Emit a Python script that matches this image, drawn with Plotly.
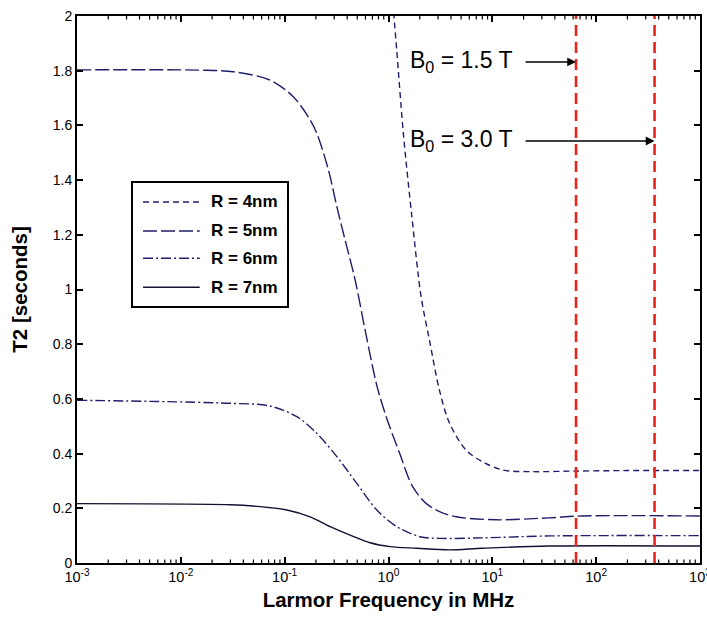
import numpy as np
import plotly.graph_objects as go

# T2 relaxation versus Larmor frequency for four particle radii
freq_r4 = [1.1, 1.2, 1.39, 1.68, 2.06, 2.48, 3.09, 3.86, 5.58, 8.07, 12.6, 24.4, 60, 200, 1000]
t2_r4 = [2.05, 1.876, 1.571, 1.266, 0.974, 0.815, 0.633, 0.512, 0.413, 0.370, 0.340, 0.334, 0.336, 0.338, 0.338]

freq_r5 = [0.001, 0.0152, 0.032, 0.072, 0.121, 0.176, 0.204, 0.264, 0.318, 0.382, 0.477, 0.595, 0.771, 0.95,
           1.28, 1.71, 2.3, 3.1, 4.5, 10.8, 35, 73, 1000]
t2_r5 = [1.803, 1.802, 1.796, 1.766, 1.705, 1.62, 1.571, 1.437, 1.303, 1.181, 1.035, 0.852, 0.65, 0.535,
         0.401, 0.279, 0.218, 0.188, 0.169, 0.158, 0.165, 0.172, 0.172]

freq_r6 = [0.001, 0.0298, 0.072, 0.131, 0.204, 0.318, 0.495, 0.771, 1.2, 2.01, 3.09, 8.07, 37, 1000]
t2_r6 = [0.595, 0.584, 0.574, 0.535, 0.474, 0.389, 0.291, 0.194, 0.133, 0.096, 0.09, 0.092, 0.099, 0.10]

freq_r7 = [0.001, 0.0298, 0.058, 0.105, 0.176, 0.274, 0.427, 0.665, 1.035, 1.87, 3.86, 8.07, 35, 1000]
t2_r7 = [0.217, 0.213, 0.206, 0.194, 0.169, 0.133, 0.102, 0.074, 0.06, 0.054, 0.048, 0.054, 0.062, 0.062]

series_names = ["R = 4nm", "R = 5nm", "R = 6nm", "R = 7nm"]
series_dash = ["6px,4px", "14px,4px", "10px,3px,2px,3px", "solid"]
series_color = ["#1f1f6b", "#1f1f6b", "#1f1f6b", "#111133"]

# Scanner field strengths and their proton Larmor frequencies (MHz)
field_labels = ["B<sub>0</sub> = 1.5 T", "B<sub>0</sub> = 3.0 T"]
field_freqs = [64, 365]
label_t2 = [1.832, 1.543]
label_start = 1.55      # frequency where the label text begins
arrow_tail = 20.2       # frequency where each arrow starts

# Axis ticks
x_major = [1e-3, 1e-2, 1e-1, 1e0, 1e1, 1e2, 1e3]
x_major_text = ["10<sup>-3</sup>", "10<sup>-2</sup>", "10<sup>-1</sup>", "10<sup>0</sup>",
                "10<sup>1</sup>", "10<sup>2</sup>", "10<sup>3</sup>"]
x_minor = [m * 10.0 ** k for k in range(-3, 3) for m in range(2, 10)]

RED = "#e8231c"
FONT = "Liberation Sans, Arial, Helvetica, sans-serif"

fig = go.Figure()
for f, t, name, dash, col in zip([freq_r4, freq_r5, freq_r6, freq_r7],
                                 [t2_r4, t2_r5, t2_r6, t2_r7], series_names, series_dash, series_color):
    fig.add_trace(go.Scatter(
        x=f, y=t, mode="lines", name=name, showlegend=False,
        line=dict(color=col, width=1.4, dash=dash, shape="spline", smoothing=0.9),
    ))

# Vertical dashed lines at the two field strengths
for fq in field_freqs:
    fig.add_shape(type="line", xref="x", yref="paper", x0=fq, x1=fq, y0=0, y1=1,
                  line=dict(color=RED, width=2.6, dash="11px,6px"))

for lab, fq, yv in zip(field_labels, field_freqs, label_t2):
    fig.add_annotation(x=np.log10(label_start), y=yv, xref="x", yref="y", text=lab,
                       showarrow=False, xanchor="left", yanchor="middle",
                       font=dict(family=FONT, size=23, color="black"))
    fig.add_annotation(x=np.log10(fq), y=yv, xref="x", yref="y", text="",
                       ax=np.log10(arrow_tail), ay=yv, axref="x", ayref="y",
                       showarrow=True, arrowhead=2, arrowsize=1.1, arrowwidth=1.6,
                       arrowcolor="black", standoff=0)

# Minor log ticks along the bottom and top edges
for mv in x_minor:
    fig.add_shape(type="line", xref="x", yref="paper", x0=mv, x1=mv, y0=0, y1=0.0065,
                  line=dict(color="black", width=1.2))
    fig.add_shape(type="line", xref="x", yref="paper", x0=mv, x1=mv, y0=1 - 0.0065, y1=1,
                  line=dict(color="black", width=1.2))

# Boxed legend
leg_x0, leg_x1, leg_y0, leg_y1 = 0.0883, 0.3387, 0.468, 0.6965
leg_rows = [0.660, 0.607, 0.557, 0.504]
fig.add_shape(type="rect", xref="paper", yref="paper", x0=leg_x0, x1=leg_x1, y0=leg_y0, y1=leg_y1,
              line=dict(color="black", width=2), fillcolor="white", layer="above")
for name, dash, col, ly in zip(series_names, series_dash, series_color, leg_rows):
    fig.add_shape(type="line", xref="paper", yref="paper", x0=0.106, x1=0.197, y0=ly, y1=ly,
                  line=dict(color=col, width=1.4, dash=dash), layer="above")
    fig.add_annotation(x=0.212, y=ly, xref="paper", yref="paper", text="<b>%s</b>" % name,
                       showarrow=False, xanchor="left", yanchor="middle",
                       font=dict(family=FONT, size=17, color="black"))

fig.update_xaxes(
    type="log", range=[-3, 3], tickmode="array", tickvals=x_major, ticktext=x_major_text,
    ticklabeloverflow="allow", automargin=False,
    showline=True, linecolor="black", linewidth=2, mirror="allticks",
    ticks="inside", ticklen=6, tickwidth=1.5, tickcolor="black",
    showgrid=False, zeroline=False,
    tickfont=dict(family=FONT, size=14.5, color="black"),
    title=dict(text="<b>Larmor Frequency in MHz</b>", standoff=8,
               font=dict(family=FONT, size=20.5, color="black")),
)
fig.update_yaxes(
    range=[0, 2], dtick=0.2, automargin=False,
    showline=True, linecolor="black", linewidth=2, mirror="allticks",
    ticks="inside", ticklen=6, tickwidth=1.5, tickcolor="black",
    showgrid=False, zeroline=False,
    tickfont=dict(family=FONT, size=14, color="black"),
    title=dict(text="<b>T2 [seconds]</b>", standoff=20,
               font=dict(family=FONT, size=20.5, color="black")),
)

fig.update_layout(
    width=707, height=618,
    margin=dict(l=77, r=7, t=16, b=55, autoexpand=False),
    paper_bgcolor="white", plot_bgcolor="white",
    showlegend=False,
)

fig.write_html("out.html")
